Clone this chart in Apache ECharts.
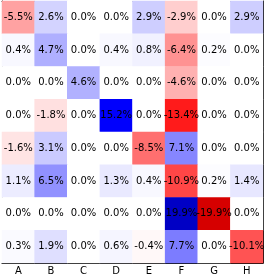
<!DOCTYPE html>
<html>
<head>
<meta charset="utf-8">
<script src="https://cdn.jsdelivr.net/npm/echarts@6/dist/echarts.min.js"></script>
<style>
html,body{margin:0;padding:0;background:#fff;}
#c{width:265px;height:277px;}
</style>
</head>
<body>
<div id="c"></div>
<script>
const xCategories = ['A','B','C','D','E','F','G','H'];
const yCategories = ['1','2','3','4','5','6','7','8'];
const row1 = [-5.5, 2.6, 0.0, 0.0, 2.9, -2.9, 0.0, 2.9];
const row2 = [0.4, 4.7, 0.0, 0.4, 0.8, -6.4, 0.2, 0.0];
const row3 = [0.0, 0.0, 4.6, 0.0, 0.0, -4.6, 0.0, 0.0];
const row4 = [0.0, -1.8, 0.0, 15.2, 0.0, -13.4, 0.0, 0.0];
const row5 = [-1.6, 3.1, 0.0, 0.0, -8.5, 7.1, 0.0, 0.0];
const row6 = [1.1, 6.5, 0.0, 1.3, 0.4, -10.9, 0.2, 1.4];
const row7 = [0.0, 0.0, 0.0, 0.0, 0.0, 19.9, -19.9, 0.0];
const row8 = [0.3, 1.9, 0.0, 0.6, -0.4, 7.7, 0.0, -10.1];
const rows = [row1, row2, row3, row4, row5, row6, row7, row8];

const data = [];
rows.forEach((r, i) => r.forEach((v, j) => data.push([j, i, v])));

const font = 'DejaVu Sans';
const chart = echarts.init(document.getElementById('c'), null, {renderer: 'canvas'});
const tick = {show: true, inside: true, length: 3, alignWithLabel: true, lineStyle: {color: '#000', width: 1}};
const line = {show: true, lineStyle: {color: '#000', width: 1}};
chart.setOption({
  animation: false,
  backgroundColor: '#fff',
  grid: {left: 2, top: 1, width: 261, height: 262, containLabel: false},
  xAxis: [
    {type: 'category', data: xCategories, position: 'bottom',
     axisLine: line, axisTick: tick, splitLine: {show: false},
     axisLabel: {fontFamily: font, fontSize: 10, color: '#000', margin: 3}},
    {type: 'category', data: xCategories, position: 'top',
     axisLine: line, axisTick: tick, axisLabel: {show: false}, splitLine: {show: false}}
  ],
  yAxis: [
    {type: 'category', data: yCategories, inverse: true, position: 'left',
     axisLine: line, axisTick: tick, axisLabel: {show: false}, splitLine: {show: false}},
    {type: 'category', data: yCategories, inverse: true, position: 'right',
     axisLine: line, axisTick: tick, axisLabel: {show: false}, splitLine: {show: false}}
  ],
  visualMap: {
    show: false, type: 'continuous', min: -30, max: 30, dimension: 2,
    inRange: {color: ['#800000', '#ff0000', '#ffffff', '#0000ff', '#00004d']}
  },
  series: [{
    type: 'heatmap', data: data, xAxisIndex: 0, yAxisIndex: 0,
    label: {show: true, fontFamily: font, fontSize: 10, color: '#000',
      formatter: p => p.value[2].toFixed(1) + '%'},
    itemStyle: {borderWidth: 0},
    emphasis: {disabled: true}
  }]
});
</script>
</body>
</html>
